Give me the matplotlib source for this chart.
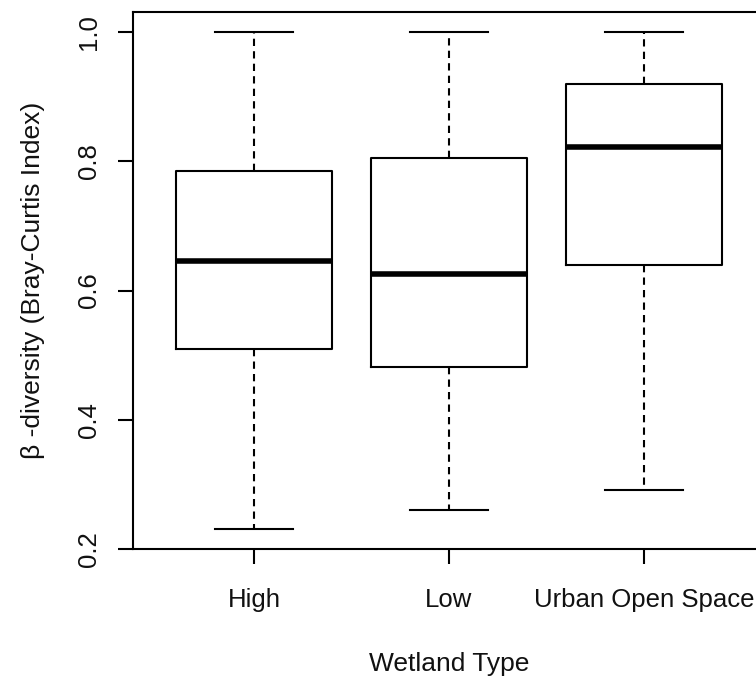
import matplotlib
matplotlib.use('Agg')
import matplotlib.pyplot as plt

plt.rcParams['font.family'] = ['Liberation Sans', 'DejaVu Sans']

# Boxplot summary stats
groups = ['High', 'Low', 'Urban Open Space']
whis_lo = [0.231, 0.260, 0.291]
q1 = [0.510, 0.482, 0.640]
med = [0.645, 0.625, 0.822]
q3 = [0.785, 0.805, 0.919]
whis_hi = [1.0, 1.0, 1.0]

stats = []
for i, g in enumerate(groups):
    stats.append(dict(label=g, whislo=whis_lo[i], q1=q1[i], med=med[i],
                      q3=q3[i], whishi=whis_hi[i], fliers=[]))

fig = plt.figure(figsize=(7.56, 6.77), dpi=100)
# right edge of the plot box falls just outside the image, as in the original
ax = fig.add_axes([133/756, 1 - 549/677, (765 - 133)/756, (549 - 12)/677])

lw = 1.5
ax.bxp(stats, positions=[1, 2, 3], widths=0.8, showfliers=False,
       boxprops=dict(color='black', linewidth=lw),
       medianprops=dict(color='black', linewidth=4),
       whiskerprops=dict(color='black', linewidth=lw, linestyle=(0, (3.5, 2.5))),
       capprops=dict(color='black', linewidth=lw),
       capwidths=0.4)

ax.set_xlim(0.38, 3.62)
ax.set_ylim(0.2, 1.031)

for s in ax.spines.values():
    s.set_linewidth(1.5)

ax.set_yticks([0.2, 0.4, 0.6, 0.8, 1.0])
ax.set_yticklabels(['0.2', '0.4', '0.6', '0.8', '1.0'], rotation=90, va='center')
ax.set_xticks([1, 2, 3])
ax.set_xticklabels(groups)
ax.tick_params(axis='both', which='major', labelsize=18.5, length=11, width=1.5,
               labelcolor='#111111')
ax.tick_params(axis='x', pad=17)
ax.tick_params(axis='y', pad=12)

ax.set_xlabel('Wetland Type', size=19, labelpad=29, color='#111111')
ax.set_ylabel('\u03b2 -diversity (Bray-Curtis Index)', size=19, labelpad=23, color='#111111')

fig.savefig('out.png', dpi=100)
